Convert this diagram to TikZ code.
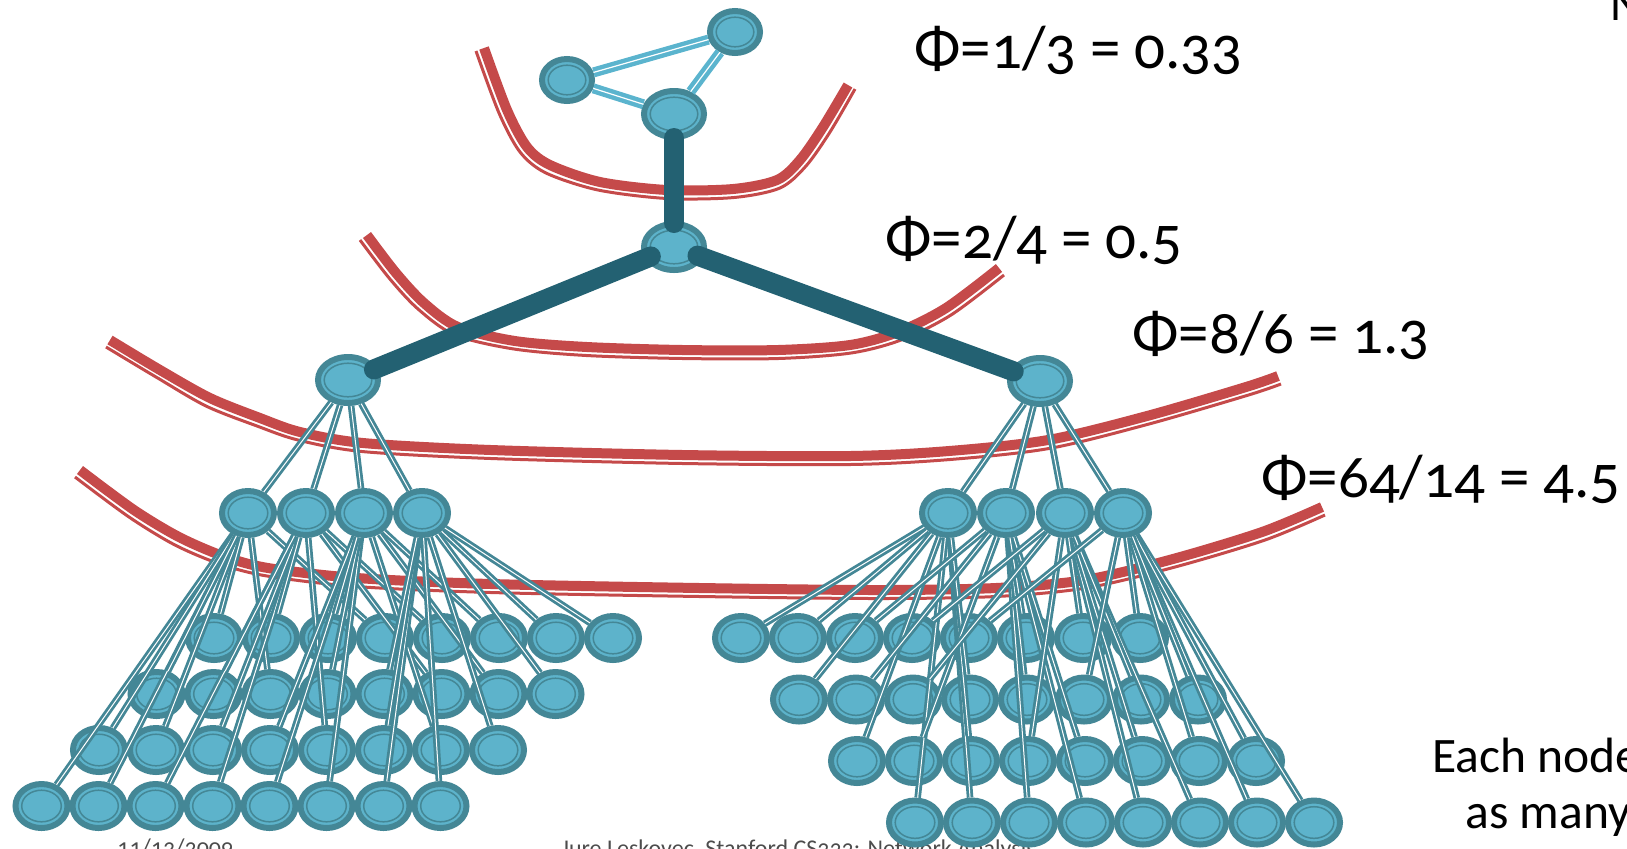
\documentclass[tikz,border=0pt]{standalone}
\usepackage{fontspec}
\setmainfont{Carlito}[Numbers=OldStyle]
\usetikzlibrary{shapes.geometric,calc}
\definecolor{cutred}{HTML}{C54A4A}
\definecolor{nodefill}{HTML}{5DB3CB}
\definecolor{noderim}{HTML}{448796}
\definecolor{trunkblue}{HTML}{236172}
\definecolor{triblue}{HTML}{5BB4CE}

\begin{document}
\begin{tikzpicture}[x=0.5pt, y=-0.5pt,
  vtx/.style={ellipse, draw=noderim, fill=nodefill, line width=3pt, inner sep=0pt,
    minimum width=26pt, minimum height=22pt,
    path picture={\draw[noderim, line width=0.75pt]
      let \p1=(path picture bounding box.north east), \p2=(path picture bounding box.center)
      in (\p2) ellipse [x radius={\x1-\x2-3.1pt}, y radius={\y1-\y2-3.1pt}];}},
  bigv/.style={vtx, minimum width=30pt, minimum height=23pt},
  smallv/.style={vtx, minimum width=25pt, minimum height=21pt},
  spoke/.style={draw=noderim, double=white, line width=1.4pt, double distance=0.5pt},
  trunk/.style={draw=trunkblue, line width=10pt, line cap=round},
  tri edge/.style={draw=triblue, double=white, line width=2.2pt, double distance=0.6pt},
  cutband/.style={draw=cutred, line width=5pt},
  cutline/.style={draw=cutred, line width=1.5pt},
  phi/.style={font=\fontsize{30.5}{36}\selectfont, anchor=base west, inner sep=0pt},
  foot/.style={font=\fontsize{12}{14}\selectfont, anchor=base west, inner sep=0pt, text=black!70},
  note/.style={font=\fontsize{24.8}{30}\selectfont, anchor=base west, inner sep=0pt}]
\useasboundingbox (0,0) rectangle (1627,848);

\node[foot] (date) at (117,855) {11/12/2009};
\node[foot] (credit) at (561,856) {Jure Leskovec, Stanford CS322: Network Analysis};

% the four cuts
\draw[cutband] plot[smooth] coordinates {(484,48) (507,110) (527,147) (550,165) (600,182) (667,190) (733,189) (777,180) (800,160) (823,127) (848,85)};
\draw[cutline] plot[smooth] coordinates {(476,51) (499,113) (520,152) (546,173) (598,190) (667,198.5) (734,197.5) (780,188) (806,166) (830,132) (855,89)};
\draw[cutband] plot[smooth] coordinates {(367,235) (396,273) (424,303) (458,327) (515,341) (587,347) (683,350) (778,350) (850,345) (898,332) (946,308) (999,268)};
\draw[cutline] plot[smooth] coordinates {(360,240) (389.5,278.5) (418,309) (455,335) (514,349) (586.5,355.5) (683,358.5) (778.3,358.5) (851,353) (901,340) (951,315) (1004,275)};
\draw[cutband] plot[smooth] coordinates {(110,340) (160,370) (210,398) (260,418) (300,432) (363,443) (491,450) (683,455) (850,456) (949,451) (1048,440) (1147,416) (1246,387) (1278,376)};
\draw[cutline] plot[smooth] coordinates {(106,347) (156,377) (206,406) (257,426) (298,440) (362,451.5) (491,458.5) (683,463.5) (850,464.5) (950,459.5) (1049.5,448.4) (1149,424) (1248.5,395) (1281,384)};
\draw[cutband] plot[smooth] coordinates {(80,470) (134,510) (179,537) (223,556) (268,568) (357,578) (491,584) (700,588) (877,590) (996,588) (1085,580) (1173,559) (1262,532) (1322,507)};
\draw[cutline] plot[smooth] coordinates {(75,477) (129,517) (175,545) (220,564) (267,576) (356,586.5) (491,592.5) (700,596.5) (877,598.5) (996,596.5) (1086,588) (1175,567) (1265,540) (1325,515)};

% top part
\node[smallv] (tA) at (567,80) {};
\node[smallv] (tB) at (735,32) {};
\node[bigv] (tC) at (674,114) {};
\node[bigv] (mid) at (674,247) {};
\node[bigv] (hubL) at (348,380) {};
\node[bigv] (hubR) at (1040,381) {};

% children
\foreach \k/\x in {1/248,2/306,3/364,4/422}
  \node[vtx] (la\k) at (\x,513) {};
\foreach \k/\x in {1/948,2/1006,3/1065,4/1123}
  \node[vtx] (ra\k) at (\x,513) {};
\foreach \r in {1,...,4}
  \foreach \c in {1,...,8}
    \node[vtx] (lg\r\c) at ({214+57*(\c-1)-57.5*(\r-1)},{638+56*(\r-1)}) {};
\foreach \r in {1,...,4}
  \foreach \c in {1,...,8}
    \node[vtx] (rg\r\c) at ({741+57*(\c-1)+58*(\r-1)},{638+61.5*(\r-1)}) {};

\foreach \k in {1,...,4} {
  \draw[spoke] (hubL) -- (la\k);
  \draw[spoke] (hubR) -- (ra\k);
}
\foreach \k/\kids in {1/{41,42,31,32,21,23,11,14}, 2/{43,44,33,35,22,26,12,15},
    3/{45,46,34,37,24,27,13,16}, 4/{47,48,36,38,25,28,17,18}}
  \foreach \t in \kids
    \draw[spoke] (la\k) -- (lg\t);
\foreach \k/\kids in {1/{42,41,33,31,24,21,12,11}, 2/{44,43,35,32,25,22,16,13},
    3/{46,45,36,34,27,23,17,14}, 4/{48,47,38,37,28,26,18,15}}
  \foreach \t in \kids
    \draw[spoke] (ra\k) -- (rg\t);

\draw[tri edge] (tA) -- (tB);
\draw[tri edge] (tA) -- (tC);
\draw[tri edge] (tB) -- (tC);
\draw[trunk, shorten <=12pt, shorten >=12pt] (tC.center) -- (mid.center);
\draw[trunk, shorten <=12.5pt, shorten >=14pt] (mid.center) -- (hubL.center);
\draw[trunk, shorten <=12.5pt, shorten >=14pt] (mid.center) -- (hubR.center);

\node[phi] (cut1) at (914,68) {Φ=1/3 = 0.33};
\node[phi] (cut2) at (885,258) {Φ=2/4 = 0.5};
\node[phi] (cut3) at (1132,353) {Φ=8/6 = 1.3};
\node[phi] (cut4) at (1261,497) {Φ=64/14 = 4.5};

\node[note] (title) at (1610,20) {N};
\node[note] (noteA) at (1432,772) {Each node};
\node[note] (noteB) at (1465,828) {as many};
\end{tikzpicture}
\end{document}
